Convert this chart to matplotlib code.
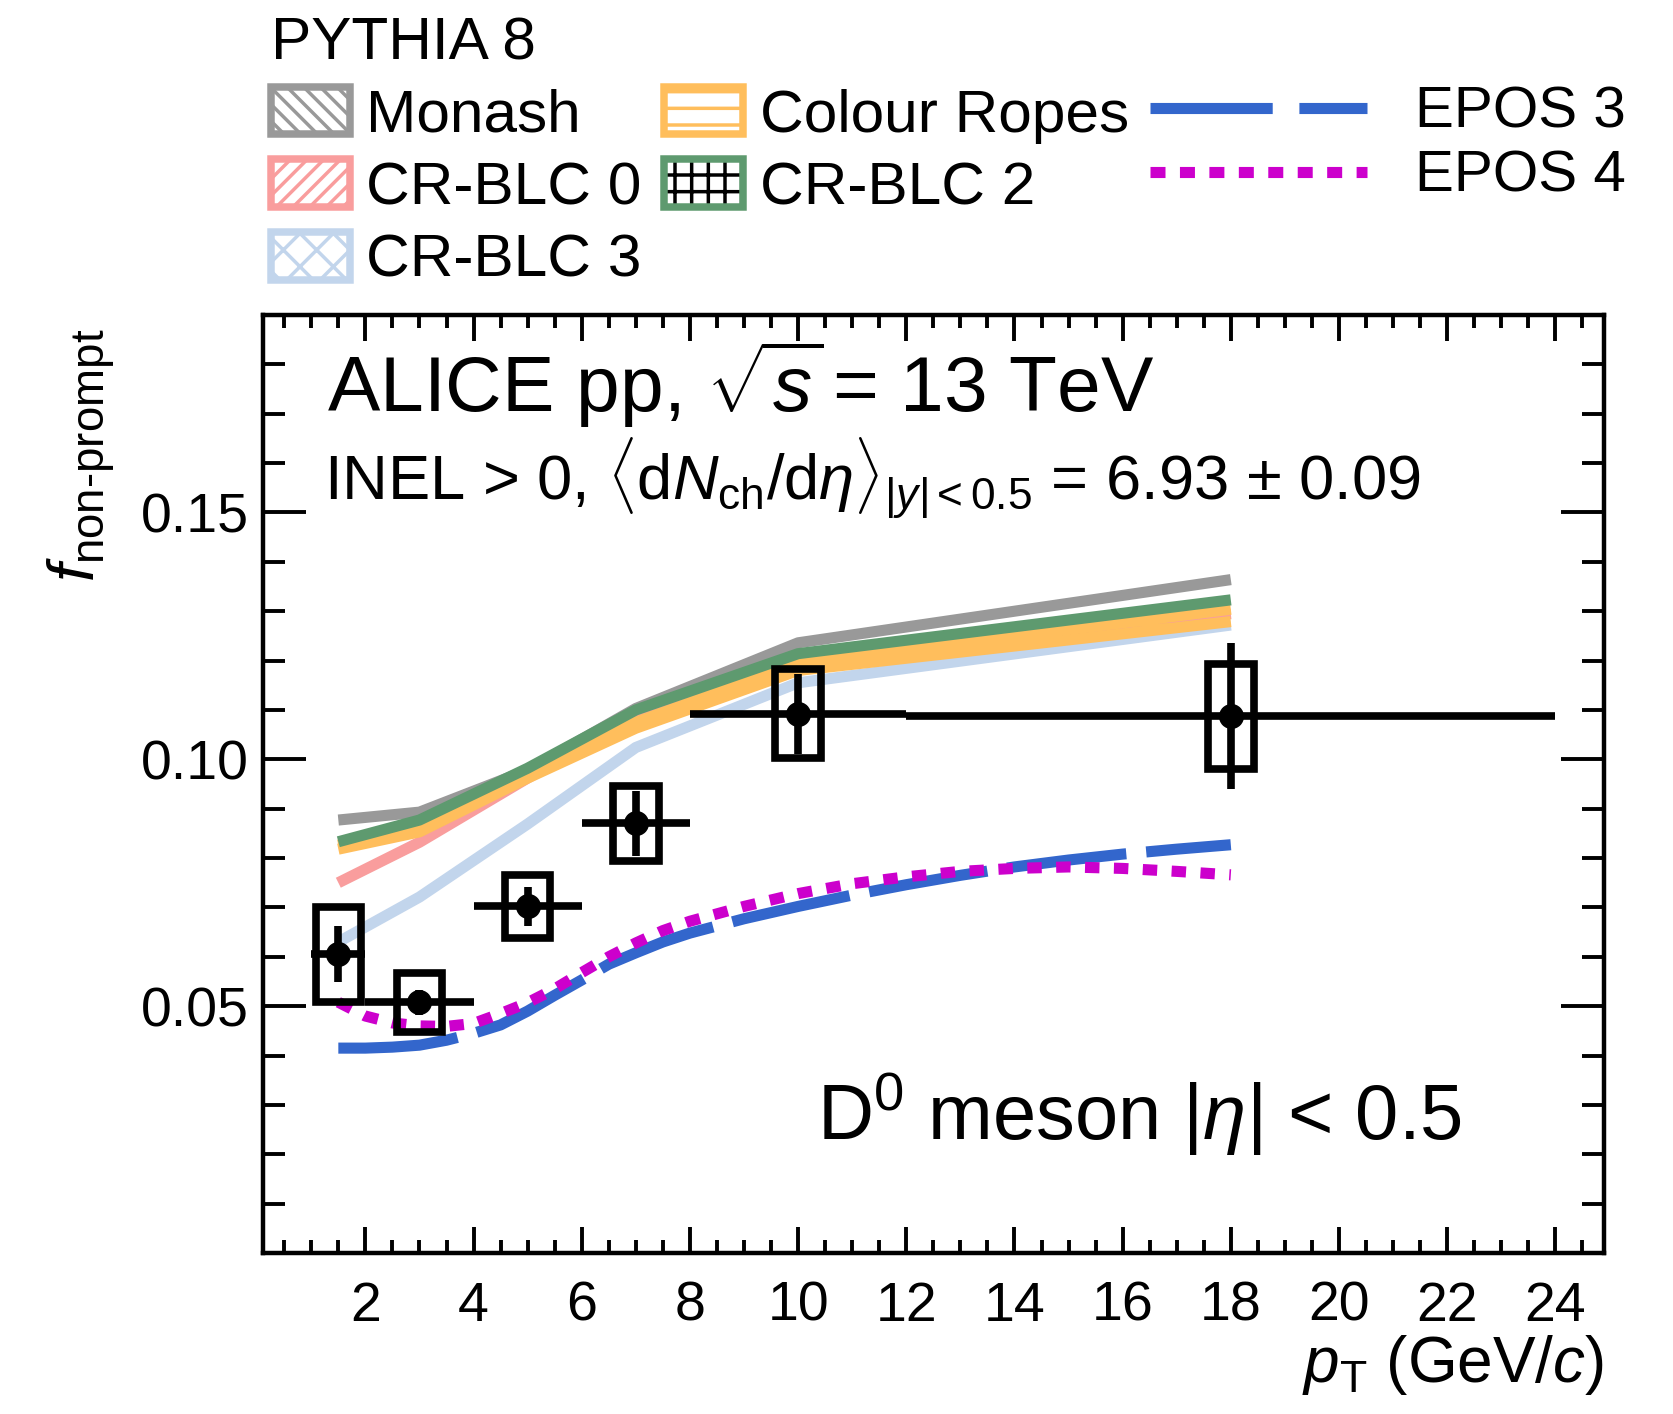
import matplotlib
matplotlib.use('Agg')
import matplotlib.pyplot as plt
import numpy as np
from matplotlib.patches import Patch
from matplotlib.lines import Line2D
from matplotlib.legend_handler import HandlerTuple
from matplotlib.ticker import MultipleLocator, FixedLocator, FormatStrFormatter

plt.rcParams['font.family'] = ['Liberation Sans', 'DejaVu Sans']
plt.rcParams['mathtext.fontset'] = 'custom'
plt.rcParams['mathtext.rm'] = 'Liberation Sans'
plt.rcParams['mathtext.it'] = 'Liberation Sans:italic'
plt.rcParams['mathtext.bf'] = 'Liberation Sans:bold'
plt.rcParams['hatch.linewidth'] = 2.5

# ---------------- data ----------------
pt = np.array([1.5, 3.0, 5.0, 7.0, 10.0, 18.0])
pt_lo = np.array([1.0, 2.0, 4.0, 6.0, 8.0, 12.0])
pt_hi = np.array([2.0, 4.0, 6.0, 8.0, 12.0, 24.0])
fnp = np.array([0.0605, 0.0508, 0.0702, 0.0870, 0.1092, 0.1087])
stat = np.array([0.0057, 0.0025, 0.0040, 0.0066, 0.0081, 0.0148])
syst = np.array([0.0096, 0.0060, 0.0064, 0.0075, 0.0090, 0.0107])

model_pt = np.array([1.5, 3.0, 5.0, 7.0, 10.0, 18.0])
monash = np.array([0.0877, 0.0893, 0.0978, 0.1103, 0.1236, 0.1364])
crblc0 = np.array([0.0750, 0.0832, 0.0962, 0.1083, 0.1195, 0.1295])
crblc2 = np.array([0.0833, 0.0877, 0.0982, 0.1100, 0.1214, 0.1323])
crblc3 = np.array([0.0630, 0.0721, 0.0869, 0.1024, 0.1155, 0.1272])
ropes_lo = np.array([0.0818, 0.0853, 0.0962, 0.1063, 0.1180, 0.1279])
ropes_hi = np.array([0.0826, 0.0861, 0.0972, 0.1075, 0.1194, 0.1304])

epos_pt = np.array([1.5, 2.0, 2.5, 3.0, 3.5, 4.0, 4.5, 5.0, 5.5, 6.0, 6.5, 7.0,
                    7.5, 8.0, 9.0, 10.0, 11.0, 12.0, 13.0, 14.0, 15.0, 16.0, 17.0, 18.0])
epos3 = np.array([0.0415, 0.0415, 0.0417, 0.0421, 0.0431, 0.0445, 0.0462, 0.0490,
                  0.0522, 0.0553, 0.0585, 0.0608, 0.0630, 0.0648, 0.0677, 0.0702,
                  0.0725, 0.0746, 0.0765, 0.0782, 0.0796, 0.0808, 0.0818, 0.0827])
epos4 = np.array([0.0508, 0.0480, 0.0466, 0.0460, 0.0459, 0.0465, 0.0485, 0.0507,
                  0.0535, 0.0568, 0.0600, 0.0628, 0.0653, 0.0672, 0.0702, 0.0728,
                  0.0748, 0.0762, 0.0773, 0.0779, 0.0782, 0.0779, 0.0773, 0.0766])

xticks = [2, 4, 6, 8, 10, 12, 14, 16, 18, 20, 22, 24]
yticks = [0.05, 0.10, 0.15]

# ---------------- style ----------------
c_monash = '#999999'
c_cr0 = '#F99D9D'
c_ropes = '#FFBE5C'
c_cr2 = '#5E9A6F'
c_cr3 = '#C2D5EC'
c_epos3 = '#3366CC'
c_epos4 = '#CC00CC'

W, H = 1674, 1414
fig = plt.figure(figsize=(W / 100, H / 100), dpi=100)
ax = fig.add_axes([262.6 / W, (H - 1253) / H, 1340.9 / W, 938 / H])
ax.set_xlim(0.1, 24.89)
ax.set_ylim(0.0, 0.19)

mlw = 8
ax.plot(model_pt, crblc3, color=c_cr3, lw=mlw, solid_capstyle='butt', zorder=2)
ax.plot(model_pt, crblc0, color=c_cr0, lw=mlw, solid_capstyle='butt', zorder=2.1)
ax.plot(model_pt, monash, color=c_monash, lw=mlw, solid_capstyle='butt', zorder=2.2)
ax.fill_between(model_pt, ropes_lo, ropes_hi, facecolor='none', edgecolor=c_ropes,
                hatch='-', lw=0, zorder=2.3)
ax.plot(model_pt, ropes_lo, color=c_ropes, lw=mlw, solid_capstyle='butt', zorder=2.3)
ax.plot(model_pt, ropes_hi, color=c_ropes, lw=mlw, solid_capstyle='butt', zorder=2.3)
ax.plot(model_pt, crblc2, color=c_cr2, lw=mlw, solid_capstyle='butt', zorder=2.4)

ax.plot(epos_pt, epos3, color=c_epos3, lw=8, dashes=(10.8, 1.8), dash_capstyle='butt',
        zorder=3)
ax.plot(epos_pt, epos4, color=c_epos4, lw=8, dashes=(1.3, 1.3), dash_capstyle='butt',
        zorder=3.1)

# data: systematic boxes and statistical errors
ax.bar(pt, 2 * syst, bottom=fnp - syst, width=0.84, fill=False, edgecolor='black',
       lw=5.5, zorder=5)
ax.errorbar(pt, fnp, yerr=stat, xerr=[pt - pt_lo, pt_hi - pt], fmt='o', color='black',
            ms=17, elinewidth=5.5, capsize=0, zorder=6)

# axes styling
for s in ax.spines.values():
    s.set_linewidth(3.2)
ax.xaxis.set_major_locator(FixedLocator(xticks))
ax.xaxis.set_minor_locator(MultipleLocator(0.5))
ax.yaxis.set_major_locator(FixedLocator(yticks))
ax.yaxis.set_minor_locator(MultipleLocator(0.01))
ax.yaxis.set_major_formatter(FormatStrFormatter('%.2f'))
ax.tick_params(which='both', direction='in', top=True, right=True, width=2.8,
               labelsize=40)
ax.tick_params(axis='x', which='major', length=19, pad=20)
ax.tick_params(axis='x', which='minor', length=9.5)
ax.tick_params(axis='y', which='major', length=31, pad=10)
ax.tick_params(axis='y', which='minor', length=15.5)

ax.set_xlabel(r'$p_{\mathrm{T}}$ (GeV/$c$)', fontsize=46, loc='right', labelpad=0)
ax.set_ylabel(r'$f_{\text{non-prompt}}$', fontsize=47, loc='top')
ax.yaxis.set_label_coords(-0.108, 0.985)

ax.text(0.0478, 0.897, r'ALICE pp, $\sqrt{s}\!$ = 13 TeV', transform=ax.transAxes,
        fontsize=56.5, va='baseline', ha='left')
ax.text(0.046, 0.803,
        r'INEL > 0, $\langle\mathrm{d}N_{\mathrm{ch}}/\mathrm{d}\eta\rangle_{|y|<0.5}$ = 6.93 ± 0.09',
        transform=ax.transAxes, fontsize=45.5, va='baseline', ha='left')
ax.text(0.4134, 0.1205, r'D$^{0}$ meson |$\eta$| < 0.5', transform=ax.transAxes,
        fontsize=56, va='baseline', ha='left')

# legends
blw = 5.4
h_monash = Patch(facecolor='white', edgecolor=c_monash, hatch='\\\\', lw=blw)
h_cr0 = Patch(facecolor='white', edgecolor=c_cr0, hatch='//', lw=blw)
h_cr3 = Patch(facecolor='white', edgecolor=c_cr3, hatch='x', lw=blw)
h_ropes = Patch(facecolor='white', edgecolor=c_ropes, hatch='-', lw=blw)
h_cr2 = (Patch(facecolor='white', edgecolor='black', hatch='+', lw=0),
         Patch(facecolor='none', edgecolor=c_cr2, lw=blw))
leg1 = fig.legend([h_monash, h_cr0, h_cr3, h_ropes, h_cr2],
                  ['Monash', 'CR-BLC 0', 'CR-BLC 3', 'Colour Ropes', 'CR-BLC 2'],
                  ncol=2, title='PYTHIA 8', title_fontsize=43.5, fontsize=43.5,
                  frameon=False, loc='upper left', bbox_to_anchor=(271 / W, 1 - 16 / H),
                  borderaxespad=0, borderpad=0, handlelength=1.3, handleheight=0.84,
                  handletextpad=0.28, columnspacing=0.37, labelspacing=0.26,
                  alignment='left', handler_map={tuple: HandlerTuple(ndivide=1, pad=0)})
h_e3 = Line2D([], [], color=c_epos3, lw=8, dashes=(11, 2.4), dash_capstyle='butt')
h_e4 = Line2D([], [], color=c_epos4, lw=8, dashes=(1.35, 1.3), dash_capstyle='butt')
leg2 = fig.legend([h_e3, h_e4], ['EPOS 3', 'EPOS 4'], fontsize=42, frameon=False,
                  loc='upper left', bbox_to_anchor=(1150 / W, 1 - 86 / H),
                  borderaxespad=0, borderpad=0, handlelength=3.72,
                  handletextpad=0.82, labelspacing=0.17)

fig.savefig('out.png', dpi=100)
